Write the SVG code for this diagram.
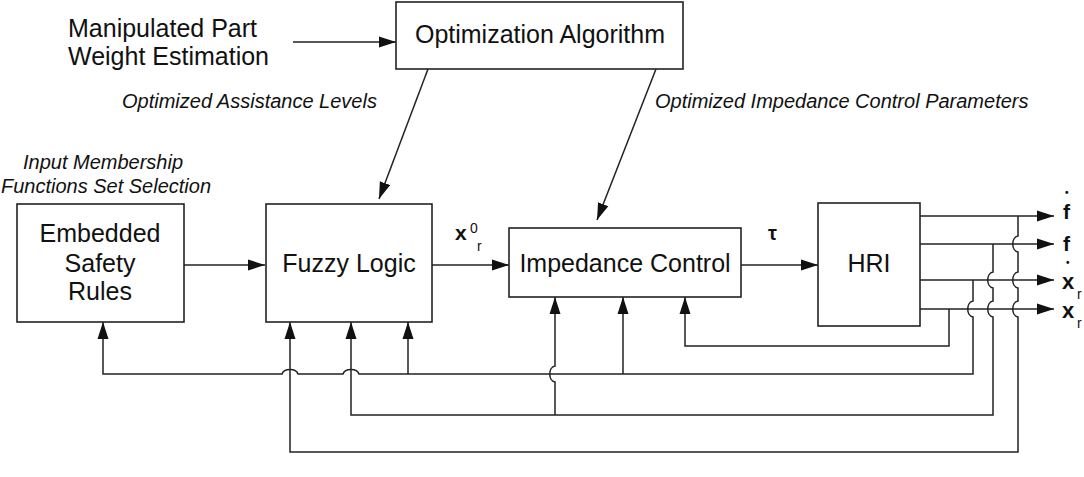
<svg xmlns="http://www.w3.org/2000/svg" width="1084" height="477" viewBox="0 0 1084 477">
<style>
text{font-family:"Liberation Sans",Arial,sans-serif;fill:#111}
.lbl{font-size:25px}
.it{font-size:20px;font-style:italic}
.b{font-weight:bold}
.dot{font-size:10px;font-weight:bold}
.box{fill:#fff;stroke:#222;stroke-width:1.6}
.ln{fill:none;stroke:#222;stroke-width:1.5}
.arr{marker-end:url(#ah)}
</style>
<defs>
<marker id="ah" markerUnits="userSpaceOnUse" markerWidth="17" markerHeight="12" refX="17" refY="6" orient="auto">
<path d="M0,0.5 L17,6 L0,11.5 z" fill="#111"/>
</marker>
</defs>
<rect width="1084" height="477" fill="#fff"/>

<g id="connectors">
<path class="ln arr" d="M293,42 H396"/>
<path class="ln arr" d="M428,69 L379,199"/>
<path class="ln arr" d="M656,69 L597,220"/>
<path class="ln arr" d="M184,265 H265"/>
<path class="ln arr" d="M432,265 H509"/>
<path class="ln arr" d="M741,265 H818"/>
<path class="ln arr" d="M920,216 H1054"/>
<path class="ln arr" d="M920,244 H1054"/>
<path class="ln arr" d="M920,280 H1054"/>
<path class="ln arr" d="M920,309 H1054"/>
<path class="ln arr" d="M973,280 V301 C966,302 966,316 973,317 V374 H359 C357,368 345,368 343,374 H298 C296,368 284,368 282,374 H103 V322"/>
<path class="ln arr" d="M408,374 V322"/>
<path class="ln arr" d="M623,374 V297"/>
<path class="ln arr" d="M1018,216 V236 C1011,237 1011,251 1018,252 V272 C1011,273 1011,287 1018,288 V301 C1011,302 1011,316 1018,317 V452 H290 V322"/>
<path class="ln arr" d="M993,244 V272 C986,273 986,287 993,288 V301 C986,302 986,316 993,317 V415 H351 V322"/>
<path class="ln arr" d="M555,415 V382 C548,381 548,367 555,366 V297"/>
<path class="ln arr" d="M949,309 V346 H685 V297"/>
</g>

<g id="opt">
<rect class="box" x="396" y="2" width="287" height="67"/>
<text class="lbl" x="540" y="43" text-anchor="middle">Optimization Algorithm</text>
</g>
<g id="weight">
<text class="lbl" x="68" y="37">Manipulated Part</text>
<text class="lbl" x="68" y="65">Weight Estimation</text>
</g>
<g id="labels">
<text class="it" x="122" y="108">Optimized Assistance Levels</text>
<text class="it" x="655" y="108">Optimized Impedance Control Parameters</text>
<text class="it" x="103" y="169" text-anchor="middle">Input Membership</text>
<text class="it" x="106" y="193" text-anchor="middle">Functions Set Selection</text>
</g>
<g id="safety">
<rect class="box" x="17" y="204" width="167" height="118"/>
<text class="lbl" x="100" y="242" text-anchor="middle">Embedded</text>
<text class="lbl" x="100" y="272" text-anchor="middle">Safety</text>
<text class="lbl" x="100" y="300" text-anchor="middle">Rules</text>
</g>
<g id="fuzzy">
<rect class="box" x="266" y="204" width="166" height="118"/>
<text class="lbl" x="349" y="272" text-anchor="middle">Fuzzy Logic</text>
</g>
<g id="impedance">
<rect class="box" x="509" y="228" width="232" height="69"/>
<text class="lbl" x="625" y="272" text-anchor="middle">Impedance Control</text>
</g>
<g id="hri">
<rect class="box" x="818" y="203" width="102" height="123"/>
<text class="lbl" x="869" y="272" text-anchor="middle">HRI</text>
</g>
<g id="signals">
<text class="b" x="455" y="240" font-size="21">x</text>
<text x="470" y="233" font-size="14">0</text>
<text x="477" y="251" font-size="14">r</text>
<text class="b" x="768" y="240" font-size="20">τ</text>
<text class="dot" x="1065" y="196">•</text>
<text class="b" x="1063" y="219" font-size="21">f</text>
<text class="b" x="1063" y="251" font-size="21">f</text>
<text class="dot" x="1066" y="266">•</text>
<text class="b" x="1062" y="289" font-size="22">x</text>
<text x="1077" y="299" font-size="14">r</text>
<text class="b" x="1062" y="318" font-size="22">x</text>
<text x="1077" y="328" font-size="14">r</text>
</g>
</svg>
